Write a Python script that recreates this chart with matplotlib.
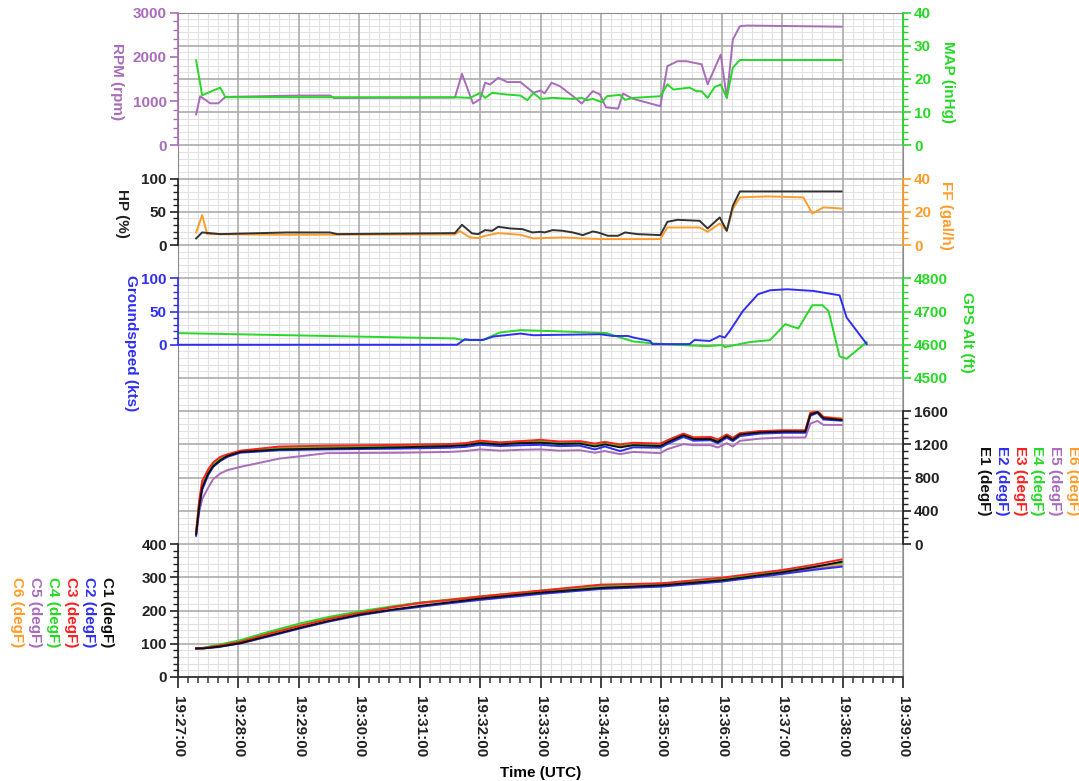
import matplotlib
matplotlib.use("Agg")
import matplotlib.pyplot as plt
from matplotlib.ticker import MultipleLocator, FixedLocator, FuncFormatter

# ---------------- data (time in seconds after 19:27:00) ----------------
t_rpm = [18, 22, 32, 40, 47, 121, 151, 155, 275, 282, 293, 300, 305, 310, 318, 327, 340, 353, 360, 364,
         371, 379, 392, 401, 412, 419, 425, 437, 442, 452, 466, 479, 486, 496, 505, 520, 526, 539, 545,
         551, 558, 565, 659]
rpm = [700, 1110, 950, 950, 1095, 1125, 1125, 1070, 1080, 1615, 945, 1040, 1415, 1375, 1525, 1430, 1430,
       1190, 1240, 1175, 1415, 1340, 1115, 945, 1225, 1150, 860, 830, 1170, 1050, 965, 885, 1790, 1900,
       1900, 1830, 1380, 2050, 1075, 2390, 2690, 2705, 2680]

t_map = [18, 24, 42, 47, 275, 290, 300, 305, 312, 327, 340, 347, 353, 360, 372, 392, 401, 406, 412, 421,
         426, 439, 444, 452, 479, 486, 492, 508, 515, 520, 526, 533, 539, 545, 551, 558, 659]
map_inhg = [25.6, 15.1, 17.4, 14.5, 14.5, 14.3, 15.8, 14.3, 15.8, 15.3, 15.0, 13.6, 15.8, 14.0, 14.3, 14.0,
            14.3, 13.6, 14.0, 13.0, 14.8, 15.2, 13.7, 14.3, 14.8, 18.4, 16.8, 17.4, 16.3, 16.3, 14.3, 17.6,
            18.3, 14.3, 23.4, 25.7, 25.7]

t_hp = [18, 24, 42, 108, 151, 158, 275, 282, 292, 298, 305, 312, 318, 330, 342, 352, 360, 364, 372, 382,
        392, 402, 412, 417, 427, 437, 444, 456, 479, 486, 496, 518, 526, 538, 545, 551, 558, 659]
hp = [10, 19, 16.5, 19, 19, 16.5, 18, 30.5, 17.6, 16.5, 22.5, 21.5, 27.5, 25, 24, 19, 20, 19, 22.5, 21.5,
      19, 15, 20.5, 19, 14, 14, 19, 16.5, 15, 35, 38, 36.5, 25, 41.6, 21.5, 59, 80.7, 80.7]

t_ff = [18, 24, 29, 108, 275, 280, 290, 298, 305, 318, 340, 353, 382, 402, 422, 479, 486, 518, 526, 538,
        545, 551, 558, 585, 621, 630, 641, 659]
ff = [7.6, 18, 6.6, 6.2, 6.4, 8.4, 4.6, 4.2, 5.6, 7.2, 6.2, 4.0, 4.6, 4.0, 3.6, 3.6, 10.6, 10.6, 8.0, 13,
      8.6, 21.7, 28.7, 29.3, 28.7, 19, 22.7, 22]

t_gs = [0, 277, 285, 290, 303, 313, 340, 353, 366, 419, 432, 447, 452, 469, 471, 508, 513, 528, 535, 538,
        543, 548, 561, 576, 588, 605, 631, 657, 664, 684]
gs = [0, 0, 8.3, 7.2, 7.2, 12.3, 16.8, 14.3, 14.7, 15.8, 13.2, 13.2, 11, 5.7, 1, 1, 7.2, 5.7, 10.8, 13.2,
      10.8, 20.8, 50.8, 76, 82, 83.5, 81, 74.4, 41, 1]

t_alt = [0, 275, 283, 302, 320, 340, 372, 426, 439, 452, 472, 499, 525, 541, 543, 568, 588, 603, 616,
         630, 640, 646, 657, 664, 684]
gps_alt = [4635, 4619, 4614, 4614, 4637, 4644, 4641, 4635, 4622, 4610, 4604, 4599, 4596, 4599, 4593, 4608,
           4614, 4662, 4649, 4719, 4719, 4702, 4565, 4558, 4608]

t_egt = [18, 21, 24, 30, 35, 42, 49, 62, 101, 148, 220, 270, 285, 300, 320, 340, 360, 379, 399, 414, 424,
         439, 452, 479, 486, 502, 512, 529, 536, 545, 551, 558, 578, 601, 623, 628, 635, 641, 659]
e1 = [120, 450, 680, 850, 940, 1010, 1060, 1110, 1140, 1150, 1165, 1180, 1190, 1215, 1200, 1215, 1220, 1205,
      1210, 1175, 1200, 1165, 1190, 1180, 1225, 1310, 1265, 1265, 1230, 1300, 1255, 1320, 1345, 1355, 1355,
      1560, 1590, 1515, 1495]
e2 = [100, 420, 650, 830, 930, 1000, 1050, 1100, 1130, 1140, 1150, 1160, 1170, 1195, 1180, 1190, 1195, 1180,
      1185, 1140, 1175, 1120, 1165, 1160, 1205, 1290, 1245, 1250, 1215, 1280, 1240, 1300, 1330, 1340, 1340,
      1545, 1580, 1500, 1485]
e3 = [150, 520, 760, 900, 985, 1050, 1080, 1125, 1175, 1185, 1195, 1205, 1215, 1245, 1225, 1240, 1255, 1235,
      1240, 1210, 1230, 1200, 1220, 1210, 1250, 1330, 1285, 1290, 1260, 1320, 1280, 1335, 1360, 1370, 1370,
      1580, 1600, 1530, 1505]
e4 = [130, 480, 700, 860, 950, 1020, 1065, 1115, 1150, 1160, 1175, 1190, 1200, 1225, 1210, 1225, 1230, 1215,
      1220, 1185, 1210, 1175, 1200, 1190, 1235, 1315, 1275, 1275, 1240, 1305, 1265, 1325, 1345, 1350, 1350,
      1565, 1595, 1520, 1500]
e5 = [110, 380, 541, 680, 782, 850, 890, 930, 1030, 1095, 1100, 1110, 1120, 1140, 1125, 1135, 1140, 1125,
      1130, 1100, 1120, 1083, 1110, 1095, 1143, 1203, 1191, 1191, 1163, 1215, 1175, 1243, 1270, 1283, 1283,
      1450, 1483, 1435, 1435]
e6 = [140, 500, 730, 880, 965, 1035, 1075, 1120, 1165, 1175, 1185, 1200, 1210, 1240, 1220, 1235, 1245, 1225,
      1230, 1200, 1225, 1190, 1215, 1205, 1245, 1325, 1280, 1285, 1255, 1315, 1275, 1335, 1360, 1365, 1365,
      1585, 1610, 1530, 1515]

t_cht = [18, 25, 40, 62, 90, 121, 150, 181, 211, 240, 270, 300, 360, 420, 480, 540, 600, 630, 659]
c1 = [86, 86, 91, 102, 124, 148, 169, 188, 202, 214, 225, 236, 254, 268, 276, 291, 315, 330, 347]
c2 = [86, 86, 90, 101, 122, 146, 167, 186, 200, 211, 222, 232, 250, 265, 272, 287, 310, 322, 332]
c3 = [86, 87, 94, 106, 130, 154, 175, 193, 209, 223, 232, 242, 260, 278, 282, 299, 322, 337, 354]
c4 = [86, 88, 97, 111, 136, 161, 181, 198, 212, 224, 233, 242, 259, 275, 281, 296, 318, 332, 344]
c5 = [86, 87, 95, 108, 132, 157, 178, 195, 210, 222, 231, 240, 257, 272, 279, 293, 314, 326, 335]
c6 = [86, 87, 94, 107, 131, 156, 177, 194, 210, 223, 233, 243, 260, 276, 281, 294, 314, 330, 340]

x_minutes = list(range(27, 40))
cyl_names = ["1", "2", "3", "4", "5", "6"]

# ---------------- style ----------------
PURPLE = "#A96CBA"
GREEN = "#27D827"
BLUE = "#2F2FF2"
ORANGE = "#FF9C2A"
RED = "#FF2020"
BLACK = "#111111"
CYL_COLORS = [BLACK, BLUE, RED, GREEN, PURPLE, ORANGE]

plt.rcParams["font.family"] = ["Liberation Sans", "DejaVu Sans"]
plt.rcParams["font.weight"] = "bold"
FS = 11

W, H = 1079, 781
fig = plt.figure(figsize=(W / 100, H / 100), dpi=100)
L_PX, R_PX, TOP_PX, BOT_PX = 178, 903, 12.5, 677
U = (BOT_PX - TOP_PX) / 20.0


def fx(px):
    return px / W


def fy(py):
    return 1 - py / H


# background grid axes
bg = fig.add_axes([fx(L_PX), fy(BOT_PX), (R_PX - L_PX) / W, (BOT_PX - TOP_PX) / H])
bg.set_xlim(0, 720)
bg.set_ylim(20, 0)
bg.xaxis.set_major_locator(FixedLocator([(m - 27) * 60 for m in x_minutes]))
bg.xaxis.set_minor_locator(MultipleLocator(10))
bg.xaxis.set_major_formatter(FuncFormatter(lambda v, p: "19:%02d:00" % (27 + int(round(v / 60)))))
bg.set_yticks([])
bg.tick_params(axis="x", which="major", length=8, width=1.3, color="#333333", pad=6,
               labelsize=FS, labelcolor="#222222", labelrotation=270)
bg.tick_params(axis="x", which="minor", length=4, width=1.1, color="#333333")

# grid: minor lines first, major lines on top
minor_x = [s for s in range(0, 721, 10) if s % 60 != 0]
major_x = [(m - 27) * 60 for m in x_minutes]
minor_y = [i / 5.0 for i in range(0, 101) if i % 5 != 0]
major_y = list(range(0, 21))
bg.vlines(minor_x, 0, 20, color="#e2e2e2", lw=0.8, zorder=0.2)
bg.hlines(minor_y, 0, 720, color="#e2e2e2", lw=0.8, zorder=0.2)
bg.vlines(major_x, 0, 20, color="#ababab", lw=1.2, zorder=0.4)
bg.hlines(major_y, 0, 720, color="#ababab", lw=1.2, zorder=0.4)

for s in ["left", "right", "top"]:
    bg.spines[s].set_color("#8a8a8a")
bg.spines["bottom"].set_color("#333333")
bg.spines["bottom"].set_linewidth(1.3)
bg.set_xlabel("Time (UTC)", fontsize=FS, fontweight="bold", labelpad=6)


def panel(g_top, g_bot, ylim, side, color, major, minor, bounds):
    y0 = TOP_PX + g_bot * U
    y1 = TOP_PX + g_top * U
    ax = fig.add_axes([fx(L_PX), fy(y0), (R_PX - L_PX) / W, (y0 - y1) / H])
    ax.patch.set_visible(False)
    ax.set_xlim(0, 720)
    ax.set_ylim(*ylim)
    for s in ax.spines.values():
        s.set_visible(False)
    sp = ax.spines[side]
    sp.set_visible(True)
    sp.set_color(color)
    sp.set_linewidth(1.2)
    sp.set_bounds(*bounds)
    ax.xaxis.set_visible(False)
    ax.yaxis.set_ticks_position(side)
    lo, hi = bounds
    maj = []
    v = lo
    while v <= hi + 1e-9:
        maj.append(v)
        v += major
    mino = []
    v = lo
    while v <= hi + 1e-9:
        mino.append(v)
        v += minor
    ax.yaxis.set_major_locator(FixedLocator(maj))
    ax.yaxis.set_minor_locator(FixedLocator(mino))
    ax.yaxis.set_major_formatter(FuncFormatter(lambda val, p: "%d" % val))
    ax.tick_params(axis="y", which="major", length=6, width=1.2, color=color,
                   labelcolor=color, labelsize=FS, pad=2)
    ax.tick_params(axis="y", which="minor", length=3.5, width=1.0, color=color)
    return ax


LW = 1.4
# panel 1: RPM / MAP
ax_rpm = panel(0, 4, (0, 3000), "left", PURPLE, 1000, 200, (0, 3000))
ax_rpm.plot(t_rpm, rpm, color=PURPLE, lw=LW)
ax_map = panel(0, 4, (0, 40), "right", GREEN, 10, 2, (0, 40))
ax_map.plot(t_map, map_inhg, color=GREEN, lw=LW)

# panel 2: HP / FF
ax_ff = panel(5, 7, (0, 40), "right", ORANGE, 20, 4, (0, 40))
ax_ff.plot(t_ff, ff, color=ORANGE, lw=LW)
ax_hp = panel(5, 7, (0, 100), "left", "#222222", 50, 10, (0, 100))
ax_hp.plot(t_hp, hp, color="#333333", lw=LW)

# panel 3: groundspeed / GPS alt
ax_alt = panel(8, 11, (4500, 4800), "right", GREEN, 100, 20, (4500, 4800))
ax_alt.plot(t_alt, gps_alt, color=GREEN, lw=LW)
ax_gs = panel(8, 11, (-50, 100), "left", BLUE, 50, 10, (0, 100))
ax_gs.plot(t_gs, gs, color=BLUE, lw=LW)

# panel 4: EGT
ax_e = panel(12, 16, (0, 1600), "right", "#222222", 400, 80, (0, 1600))
for vals, c in zip([e5, e6, e4, e2, e3, e1], [PURPLE, ORANGE, GREEN, BLUE, RED, BLACK]):
    ax_e.plot(t_egt, vals, color=c, lw=LW)

# panel 5: CHT
ax_c = panel(16, 20, (0, 400), "left", "#222222", 100, 20, (0, 400))
for vals, c in zip([c5, c6, c4, c2, c3, c1], [PURPLE, ORANGE, GREEN, BLUE, RED, BLACK]):
    ax_c.plot(t_cht, vals, color=c, lw=LW)


# axis labels (rotated, reading top to bottom)
def vlabel(px, py, s, color, va="center"):
    fig.text(fx(px), fy(py), s, color=color, rotation=270, ha="center", va=va,
             fontsize=FS, fontweight="bold")


vlabel(117, 82, "RPM (rpm)", PURPLE)
vlabel(122, 213, "HP (%)", "#222222")
vlabel(131, 343, "Groundspeed (kts)", BLUE)
vlabel(948, 82, "MAP (inHg)", GREEN)
vlabel(946, 215, "FF (gal/h)", ORANGE)
vlabel(967, 332, "GPS Alt (ft)", GREEN)

for i, (n, c) in enumerate(zip(cyl_names, CYL_COLORS)):
    vlabel(984 + i * 17.8, 446, "E%s (degF)" % n, c, va="top")
    vlabel(107 - i * 18, 577, "C%s (degF)" % n, c, va="top")

fig.savefig("out.png", dpi=100)
